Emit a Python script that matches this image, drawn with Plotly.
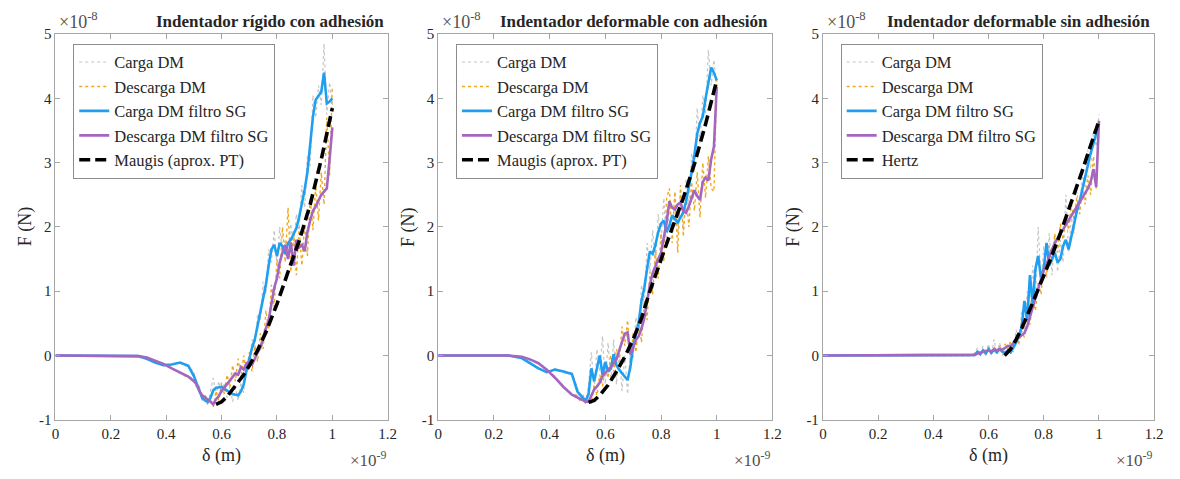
import plotly.graph_objects as go

# Shared displacement grid (units of 1e-9 m) for the measured series
DELTA = [0.00, 0.10, 0.20, 0.25, 0.30, 0.33, 0.36, 0.39, 0.42, 0.45, 0.48,
         0.50, 0.51, 0.52, 0.53, 0.54, 0.55, 0.56, 0.57, 0.58, 0.59,
         0.60, 0.61, 0.62, 0.63, 0.64, 0.65, 0.66, 0.67, 0.68, 0.69,
         0.70, 0.71, 0.72, 0.73, 0.74, 0.75, 0.76, 0.77, 0.78, 0.79,
         0.80, 0.81, 0.82, 0.83, 0.84, 0.85, 0.86, 0.87, 0.88, 0.89,
         0.90, 0.91, 0.92, 0.93, 0.94, 0.95, 0.96, 0.97, 0.98, 0.99, 1.00]

# ---- Panel 1: rigid indenter with adhesion (forces in units of 1e-8 N) ----
carga_raw_1 = [0, 0, 0, 0, -0.01, -0.06, -0.10, -0.16, -0.13, -0.12, -0.18,
               -0.25, -0.50, -0.48, -0.72, -0.62, -0.78, -0.55, -0.35, -0.62, -0.40,
               -0.60, -0.42, -0.66, -0.48, -0.72, -0.50, -0.70, -0.42, -0.58, -0.10,
               -0.18, 0.25, 0.10, 0.65, 0.55, 1.15, 0.95, 1.65, 1.45, 1.95,
               1.40, 2.00, 1.55, 1.80, 1.50, 2.05, 1.70, 2.20, 1.95, 2.65,
               2.30, 3.10, 2.95, 4.05, 3.70, 4.20, 3.90, 4.85, 3.75, 4.25, 3.90]
descarga_raw_1 = [0, 0, 0, 0, -0.01, -0.04, -0.08, -0.14, -0.20, -0.28, -0.34,
                  -0.35, -0.50, -0.52, -0.68, -0.60, -0.75, -0.66, -0.80, -0.55, -0.70,
                  -0.42, -0.60, -0.30, -0.50, -0.15, -0.40, -0.05, -0.35, 0.00, -0.30,
                  0.05, -0.25, 0.15, -0.10, 0.35, 0.10, 0.70, 0.40, 1.10, 0.75,
                  1.50, 1.20, 2.00, 1.45, 2.30, 1.30, 1.95, 1.25, 2.00, 1.40,
                  2.05, 1.55, 2.45, 1.95, 2.65, 2.10, 2.85, 2.35, 3.70, 2.80, 4.20]
carga_sg_1 = [0, 0, 0, 0, -0.01, -0.05, -0.11, -0.15, -0.14, -0.11, -0.16,
              -0.32, -0.43, -0.54, -0.66, -0.70, -0.72, -0.66, -0.54, -0.50, -0.49,
              -0.49, -0.52, -0.55, -0.58, -0.60, -0.61, -0.62, -0.56, -0.45, -0.23,
              -0.05, 0.12, 0.25, 0.45, 0.70, 0.90, 1.10, 1.40, 1.65, 1.72,
              1.55, 1.75, 1.70, 1.58, 1.75, 1.80, 1.88, 1.98, 2.15, 2.35,
              2.58, 2.85, 3.25, 3.72, 3.98, 4.05, 4.10, 4.40, 3.92, 3.95, 4.00]
descarga_sg_1 = [0, 0, 0, 0, -0.01, -0.03, -0.08, -0.13, -0.20, -0.27, -0.33,
                 -0.40, -0.45, -0.56, -0.62, -0.65, -0.68, -0.72, -0.76, -0.68, -0.63,
                 -0.55, -0.50, -0.44, -0.38, -0.34, -0.28, -0.30, -0.18, -0.22, -0.12,
                 -0.10, -0.14, -0.05, 0.05, 0.12, 0.28, 0.42, 0.55, 0.80, 1.05,
                 1.20, 1.45, 1.60, 1.72, 1.50, 1.76, 1.40, 1.80, 1.68, 1.72,
                 1.62, 1.92, 2.10, 2.25, 2.32, 2.42, 2.50, 2.55, 2.60, 3.05, 3.55]
fit_delta_1 = [0.58, 0.60, 0.62, 0.65, 0.68, 0.70, 0.73, 0.76, 0.80, 0.84, 0.88, 0.92, 0.96, 1.00]
fit_force_1 = [-0.76, -0.72, -0.64, -0.48, -0.30, -0.16, 0.08, 0.36, 0.80, 1.30, 1.78, 2.35, 3.05, 3.85]

# ---- Panel 2: deformable indenter with adhesion ----
carga_raw_2 = [0, 0, 0, 0, -0.05, -0.13, -0.19, -0.27, -0.20, -0.27, -0.27,
               -0.50, -0.68, -0.60, -0.76, -0.45, 0.05, -0.55, 0.10, -0.25, 0.30,
               -0.45, 0.20, -0.40, 0.25, -0.45, 0.10, -0.55, 0.00, -0.60, 0.05,
               -0.05, 0.60, 0.30, 1.10, 0.80, 1.75, 1.30, 1.95, 1.40, 2.20,
               1.75, 2.45, 1.70, 2.35, 1.90, 2.55, 1.85, 2.50, 1.95, 2.75,
               2.30, 3.15, 2.85, 3.85, 3.30, 4.05, 3.75, 4.75, 4.20, 4.60, 4.15]
descarga_raw_2 = [0, 0, 0, 0, -0.02, -0.07, -0.12, -0.23, -0.33, -0.48, -0.60,
                  -0.62, -0.72, -0.66, -0.76, -0.68, -0.75, -0.45, -0.62, -0.30, -0.48,
                  -0.15, -0.35, 0.00, -0.25, 0.10, -0.10, 0.45, 0.15, 0.55, -0.10,
                  0.35, 0.05, 0.55, 0.20, 0.85, 0.55, 1.30, 0.95, 1.65, 1.20,
                  1.90, 1.45, 2.45, 2.60, 1.75, 2.55, 1.60, 2.65, 1.85, 2.50,
                  2.00, 2.70, 2.25, 2.85, 2.15, 3.00, 2.45, 3.10, 2.60, 2.55, 4.30]
carga_sg_2 = [0, 0, 0, 0, -0.04, -0.12, -0.20, -0.26, -0.22, -0.25, -0.29,
              -0.56, -0.62, -0.66, -0.70, -0.60, -0.20, -0.40, -0.20, 0.00, -0.30,
              -0.10, -0.25, -0.20, 0.02, -0.15, -0.22, -0.28, -0.33, -0.38, -0.18,
              0.15, 0.35, 0.52, 0.85, 1.05, 1.35, 1.62, 1.58, 1.72, 1.92,
              2.05, 2.10, 1.92, 2.02, 2.18, 2.12, 2.07, 2.15, 2.22, 2.40,
              2.60, 2.85, 3.12, 3.45, 3.62, 3.72, 4.00, 4.25, 4.48, 4.40, 4.28]
descarga_sg_2 = [0, 0, 0, 0, -0.02, -0.06, -0.12, -0.22, -0.35, -0.49, -0.61,
                 -0.65, -0.68, -0.70, -0.72, -0.72, -0.62, -0.53, -0.48, -0.42, -0.32,
                 -0.26, -0.22, -0.18, -0.12, -0.06, 0.08, 0.22, 0.34, 0.36, 0.02,
                 0.12, 0.24, 0.30, 0.42, 0.58, 0.85, 1.10, 1.28, 1.40, 1.50,
                 1.60, 1.82, 2.07, 2.40, 2.30, 2.27, 2.35, 2.38, 2.25, 2.22,
                 2.32, 2.45, 2.57, 2.48, 2.42, 2.70, 2.77, 2.72, 3.05, 3.25, 4.18]
fit_delta_2 = [0.54, 0.56, 0.58, 0.61, 0.64, 0.67, 0.70, 0.73, 0.76, 0.80, 0.84, 0.88, 0.92, 0.96, 1.00]
fit_force_2 = [-0.73, -0.70, -0.62, -0.46, -0.25, -0.02, 0.25, 0.58, 1.00, 1.50, 1.98, 2.45, 2.98, 3.60, 4.28]

# ---- Panel 3: deformable indenter without adhesion ----
carga_raw_3 = [0, 0, 0, 0, 0, 0, 0, 0, 0, 0, 0,
               0, 0, 0, 0, 0, 0.05, 0.12, 0.00, 0.15, 0.02,
               0.18, 0.00, 0.25, 0.02, 0.20, 0.00, 0.12, 0.02, 0.20, 0.05,
               0.40, 0.15, 0.70, 0.40, 1.00, 0.60, 1.40, 0.90, 2.00, 1.10,
               1.70, 1.20, 1.90, 1.25, 1.85, 1.30, 1.80, 1.45, 2.50, 1.60,
               2.15, 1.90, 2.55, 2.20, 2.85, 2.60, 3.20, 2.90, 3.50, 3.25, 3.75]
descarga_raw_3 = [0, 0, 0, 0, 0, 0, 0, 0, 0, 0, 0,
                  0, 0, 0, 0, 0, 0.02, 0.06, 0.02, 0.08, 0.04,
                  0.12, 0.05, 0.14, 0.06, 0.15, 0.07, 0.18, 0.10, 0.22, 0.15,
                  0.30, 0.20, 0.38, 0.28, 0.55, 0.48, 0.85, 0.70, 1.15, 0.95,
                  1.45, 1.25, 1.70, 1.45, 1.90, 1.60, 2.05, 1.80, 2.20, 1.95,
                  2.35, 2.10, 2.45, 2.20, 2.60, 2.35, 2.80, 2.50, 3.10, 2.60, 3.70]
carga_sg_3 = [0, 0, 0, 0, 0, 0, 0, 0, 0, 0, 0,
              0, 0, 0, 0, 0, 0.01, 0.06, 0.02, 0.08, 0.03,
              0.10, 0.04, 0.09, 0.05, 0.10, 0.06, 0.04, 0.08, 0.05, 0.12,
              0.20, 0.30, 0.44, 0.85, 0.55, 1.25, 0.80, 1.35, 1.55, 1.20,
              1.35, 1.75, 1.40, 1.50, 1.60, 1.45, 1.50, 1.70, 1.80, 1.65,
              1.85, 2.10, 2.25, 2.40, 2.60, 2.80, 2.95, 3.15, 3.30, 3.45, 3.55]
descarga_sg_3 = [0, 0, 0, 0, 0, 0, 0, 0, 0, 0, 0,
                 0, 0, 0, 0, 0, 0.01, 0.03, 0.04, 0.05, 0.06,
                 0.08, 0.06, 0.10, 0.08, 0.10, 0.09, 0.12, 0.15, 0.14, 0.20,
                 0.25, 0.28, 0.32, 0.35, 0.45, 0.62, 0.75, 0.90, 1.05, 1.20,
                 1.32, 1.42, 1.55, 1.65, 1.75, 1.82, 1.90, 1.98, 2.05, 2.12,
                 2.18, 2.25, 2.32, 2.38, 2.45, 2.52, 2.60, 2.70, 2.90, 2.62, 3.65]
fit_delta_3 = [0.658, 0.68, 0.70, 0.72, 0.75, 0.78, 0.82, 0.86, 0.90, 0.94, 0.97, 1.00]
fit_force_3 = [0.00, 0.10, 0.25, 0.42, 0.72, 1.02, 1.45, 1.90, 2.38, 2.88, 3.27, 3.65]

PANELS = [
    dict(title="Indentador rígido con adhesión", fit_name="Maugis (aprox. PT)",
         raw_c=carga_raw_1, raw_d=descarga_raw_1, sg_c=carga_sg_1, sg_d=descarga_sg_1,
         fx=fit_delta_1, fy=fit_force_1),
    dict(title="Indentador deformable con adhesión", fit_name="Maugis (aprox. PT)",
         raw_c=carga_raw_2, raw_d=descarga_raw_2, sg_c=carga_sg_2, sg_d=descarga_sg_2,
         fx=fit_delta_2, fy=fit_force_2),
    dict(title="Indentador deformable sin adhesión", fit_name="Hertz",
         raw_c=carga_raw_3, raw_d=descarga_raw_3, sg_c=carga_sg_3, sg_d=descarga_sg_3,
         fx=fit_delta_3, fy=fit_force_3),
]

X_TICKS = [0, 0.2, 0.4, 0.6, 0.8, 1.0, 1.2]
X_TICK_TEXT = ["0", "0.2", "0.4", "0.6", "0.8", "1", "1.2"]
Y_TICKS = [-1, 0, 1, 2, 3, 4, 5]
Y_TICK_TEXT = ["-1", "0", "1", "2", "3", "4", "5"]

W, H = 1180, 479
FONT = "Liberation Serif"
TXT = "#262626"
AX = "#a6a6a6"

# plot-area pixel boxes (left, right) and shared top/bottom
BOXES = [(52, 388), (439, 777), (828, 1163)]
TOP, BOTTOM = 27, 426


def fx(p):
    return p / W


def fy(p):
    return 1 - p / H


def note(text, px, py, xanchor, size, color=TXT, angle=0):
    return dict(text=text, x=fx(px), y=fy(py), xref="paper", yref="paper",
                xanchor=xanchor, yanchor="middle", showarrow=False, textangle=angle,
                font=dict(family=FONT, size=size, color=color))


fig = go.Figure()
annotations = []

for i, (panel, (left, right)) in enumerate(zip(PANELS, BOXES), start=1):
    sfx = "" if i == 1 else str(i)
    xa, ya = "x" + sfx, "y" + sfx
    leg = "legend" + sfx
    series = [
        ("Carga DM", DELTA, panel["raw_c"], dict(color="#c4c4c4", width=1.2, dash="dot")),
        ("Descarga DM", DELTA, panel["raw_d"], dict(color="#f0a91e", width=1.4, dash="dot")),
        ("Carga DM filtro SG", DELTA, panel["sg_c"], dict(color="#1f9ff2", width=2.6)),
        ("Descarga DM filtro SG", DELTA, panel["sg_d"], dict(color="#a566bf", width=2.6)),
        (panel["fit_name"], panel["fx"], panel["fy"],
         dict(color="#000000", width=3.6, dash="11px,5px")),
    ]
    for name, xs, ys, line in series:
        fig.add_trace(go.Scatter(x=xs, y=ys, mode="lines", name=name, line=line,
                                 xaxis=xa, yaxis=ya, legend=leg, showlegend=True))

    axis_common = dict(showline=True, linecolor=AX, linewidth=1, mirror="ticks",
                       ticks="inside", ticklen=5, tickcolor=AX, showgrid=False,
                       zeroline=False,
                       tickfont=dict(family=FONT, size=15, color=TXT))
    fig.layout["xaxis" + sfx] = dict(domain=[fx(left), fx(right)], anchor=ya,
                                     range=[0, 1.2], tickvals=X_TICKS, ticktext=X_TICK_TEXT,
                                     **axis_common)
    fig.layout["yaxis" + sfx] = dict(domain=[fy(BOTTOM), fy(TOP)], anchor=xa,
                                     range=[-1, 5], tickvals=Y_TICKS, ticktext=Y_TICK_TEXT,
                                     **axis_common)

    fig.layout[leg] = dict(x=fx(left + 18), y=fy(TOP + 10), xanchor="left", yanchor="top",
                           bgcolor="white", bordercolor="#8c8c8c", borderwidth=1,
                           font=dict(family=FONT, size=16.5, color=TXT),
                           itemwidth=30, tracegroupgap=0)

    annotations += [
        note("<b>" + panel["title"] + "</b>", right - 2, 14, "right", 17),
        note("×10<sup>-8</sup>", left + 2, 13, "left", 18, "#505050"),
        note("×10<sup>-9</sup>", right + 1, 467, "right", 17, "#505050"),
        note("δ (m)", (left + right) / 2, 463, "center", 18),
        note("F (N)", left - 30, 226, "center", 18, angle=-90),
    ]

fig.update_layout(width=W, height=H, margin=dict(l=0, r=0, t=0, b=0),
                  paper_bgcolor="white", plot_bgcolor="white",
                  annotations=annotations)

fig.write_html("out.html")
